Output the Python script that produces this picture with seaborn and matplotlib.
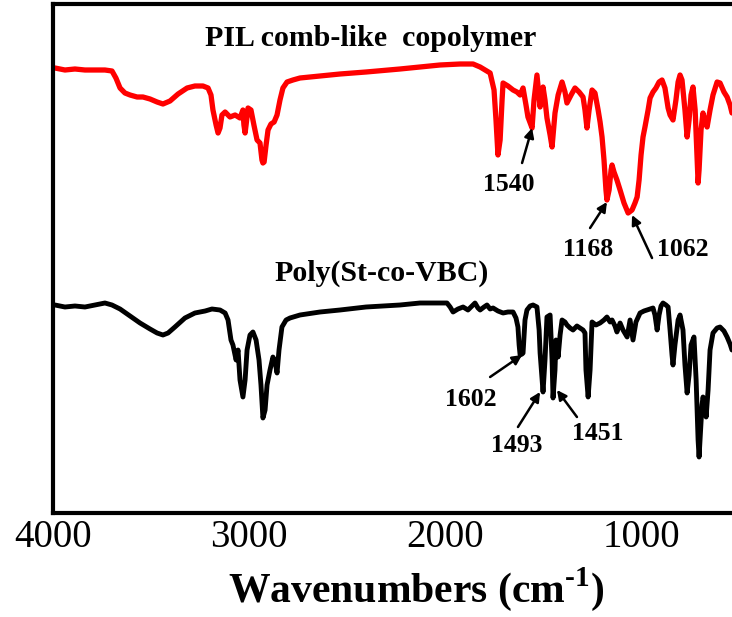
import matplotlib
matplotlib.use("Agg")
import matplotlib.pyplot as plt
import seaborn as sns
import pandas as pd
from matplotlib.ticker import MultipleLocator

# ---------------- data ----------------
pil_wn = [3990, 3939, 3888, 3837, 3786, 3735, 3699, 3679, 3658, 3633, 3607, 3571, 3541, 3505,
          3469, 3439, 3403, 3362, 3316, 3276, 3235, 3209, 3194, 3184, 3168, 3158, 3148, 3138,
          3122, 3097, 3071, 3046, 3031, 3026, 3020, 3015, 3005, 2990, 2975, 2959, 2944, 2934,
          2929, 2923, 2913, 2903, 2888, 2872, 2857, 2842, 2827, 2806, 2776, 2740, 2638, 2536,
          2403, 2230, 2026, 1923, 1857, 1821, 1770, 1750, 1740, 1730, 1719, 1709, 1704, 1679,
          1653, 1633, 1617, 1602, 1587, 1577, 1556, 1546, 1531, 1515, 1500, 1490, 1480, 1464,
          1454, 1444, 1439, 1423, 1403, 1388, 1378, 1357, 1337, 1316, 1296, 1286, 1276, 1265,
          1250, 1235, 1219, 1209, 1199, 1189, 1179, 1174, 1163, 1153, 1148, 1138, 1123, 1107,
          1087, 1066, 1046, 1031, 1020, 1010, 1000, 990, 980, 964, 954, 939, 924, 908, 893,
          878, 862, 852, 837, 822, 811, 801, 791, 776, 765, 755, 745, 735, 724, 714, 709, 704,
          694, 684, 673, 663, 648, 633, 612, 597, 577, 561, 546, 536]
pil_t = [445, 443, 444, 443, 443, 443, 442, 435, 425, 420, 418, 416, 416, 414,
         411, 409, 412, 419, 425, 427, 427, 425, 418, 403, 388, 380, 385, 398,
         401, 396, 398, 395, 403, 388, 380, 388, 405, 403, 388, 373, 370, 353,
         350, 351, 368, 383, 389, 391, 398, 413, 425, 431, 433, 435, 437, 439,
         441, 444, 448, 449, 449, 446, 440, 423, 393, 358, 373, 413, 430, 427,
         423, 421, 418, 425, 408, 396, 385, 413, 438, 406, 426, 413, 395, 378,
         366, 388, 400, 418, 431, 421, 410, 418, 425, 421, 416, 403, 385, 403,
         423, 420, 403, 391, 376, 353, 323, 313, 323, 343, 348, 341, 333, 323,
         310, 300, 303, 310, 316, 333, 358, 376, 386, 403, 415, 421, 425, 431, 433,
         425, 405, 398, 393, 413, 431, 438, 433, 403, 376, 393, 418, 426, 403, 353, 330, 343,
         383, 400, 391, 386, 403, 418, 431, 430, 421, 416, 408, 400]

psv_wn = [3990, 3939, 3888, 3837, 3786, 3735, 3699, 3658, 3607, 3556, 3505, 3469, 3439, 3413,
          3378, 3327, 3276, 3224, 3189, 3148, 3122, 3107, 3092, 3082, 3066, 3056, 3046, 3031,
          3020, 3010, 2995, 2980, 2964, 2949, 2939, 2929, 2918, 2908, 2893, 2878, 2867, 2857,
          2847, 2832, 2811, 2791, 2740, 2638, 2536, 2403, 2230, 2128, 1990, 1974, 1959, 1934,
          1908, 1883, 1862, 1847, 1832, 1821, 1801, 1786, 1770, 1755, 1730, 1704, 1679, 1653,
          1638, 1628, 1622, 1617, 1607, 1602, 1592, 1582, 1566, 1551, 1531, 1520, 1515, 1500,
          1490, 1480, 1464, 1454, 1449, 1439, 1434, 1423, 1413, 1403, 1388, 1378, 1362, 1347,
          1327, 1311, 1296, 1286, 1281, 1270, 1260, 1250, 1230, 1209, 1189, 1174, 1158, 1148,
          1133, 1123, 1107, 1092, 1071, 1056, 1041, 1026, 1005, 985, 969, 954, 939, 929, 918,
          908, 898, 888, 873, 862, 852, 842, 837, 827, 811, 801, 786, 776, 765, 755, 745, 730,
          719, 709, 704, 699, 689, 684, 673, 668, 658, 648, 633, 612, 597, 577, 561, 546, 536]
psv_t = [208, 206, 207, 206, 208, 210, 208, 204, 197, 190, 184, 180, 178, 180,
         186, 195, 200, 202, 204, 203, 200, 193, 173, 168, 153, 163, 133, 116,
         133, 163, 178, 181, 173, 153, 128, 95, 103, 128, 143, 156, 151, 140,
         163, 186, 193, 195, 198, 201, 203, 206, 208, 210, 210, 206, 201, 204,
         206, 203, 207, 210, 205, 203, 206, 208, 204, 205, 202, 200, 201, 201,
         195, 186, 168, 158, 159, 160, 193, 203, 207, 208, 206, 183, 160, 121,
         153, 196, 198, 153, 115, 143, 173, 156, 178, 193, 191, 188, 185, 183,
         187, 185, 183, 180, 143, 116, 143, 191, 188, 190, 193, 196, 191, 193,
         187, 181, 190, 183, 176, 193, 173, 191, 200, 202, 203, 204, 205, 198, 183,
         198, 207, 210, 208, 206, 183, 158, 148, 168, 193, 198, 183, 148, 120, 138, 168, 176,
         133, 73, 56, 73, 108, 116, 108, 96, 123, 163, 180, 185, 186, 182, 176, 169, 163]

series_labels = ["PIL comb-like  copolymer", "Poly(St-co-VBC)"]
x_ticks = [4000, 3000, 2000, 1000]

# peak annotations: (label, peak wn, peak y, text wn, text y)
pil_peaks = [("1540", 1556, 385, 1673, 329),
             ("1168", 1174, 311, 1270, 264),
             ("1062", 1046, 298, 786, 264)]
psv_peaks = [("1602", 1607, 158, 1867, 113),
             ("1493", 1515, 121, 1633, 68),
             ("1451", 1429, 123, 1219, 80)]
# arrow tails (wn, y)
pil_tails = [(1607, 350), (1260, 285), (944, 255)]
psv_tails = [(1770, 136), (1628, 86), (1327, 96)]

# ---------------- figure ----------------
sns.set_style("white")
plt.rcParams['font.family'] = ['Liberation Serif', 'DejaVu Serif']
plt.rcParams['mathtext.fontset'] = 'custom'
plt.rcParams['mathtext.rm'] = 'Liberation Serif:bold'
plt.rcParams['mathtext.bf'] = 'Liberation Serif:bold'
plt.rcParams['text.color'] = 'black'
plt.rcParams['axes.labelcolor'] = 'black'
plt.rcParams['xtick.color'] = 'black'

W, H = 732, 617
fig = plt.figure(figsize=(W / 100, H / 100), dpi=100)
ax = fig.add_axes([53 / W, 104 / H, 679 / W, 509 / H])

df_pil = pd.DataFrame({"wn": pil_wn, "t": pil_t})
df_psv = pd.DataFrame({"wn": psv_wn, "t": psv_t})
sns.lineplot(data=df_pil, x="wn", y="t", color="#ff0000", lw=3.8, ax=ax, sort=False)
sns.lineplot(data=df_psv, x="wn", y="t", color="black", lw=3.5, ax=ax, sort=False)

ax.set_xlim(4000, 536)
ax.set_ylim(0, 509)
ax.set_yticks([])
ax.set_xticks(x_ticks)
ax.set_xticklabels([str(v) for v in x_ticks])
ax.xaxis.set_minor_locator(MultipleLocator(500))
ax.tick_params(axis='x', which='major', direction='in', length=7, width=2.2,
               labelsize=28, pad=4, top=False, colors='black')
ax.tick_params(axis='x', which='minor', direction='in', length=4, width=2.2, top=False)

for s in ['left', 'bottom', 'top']:
    ax.spines[s].set_linewidth(3)
    ax.spines[s].set_color('black')
ax.spines['right'].set_visible(False)

ax.set_ylabel("")
ax.set_xlabel(r"Wavenumbers (cm$^{\text{-1}}$)", fontsize=30, fontweight='bold', color='black')
ax.xaxis.set_label_coords(0.535, -0.102)

# series labels
ax.text(2378, 474, series_labels[0], fontsize=21.5, fontweight='bold', ha='center', va='center',
        color='black')
ax.text(2321, 240, series_labels[1], fontsize=21.5, fontweight='bold', ha='center', va='center',
        color='black')

# annotations
for peaks, tails in ((pil_peaks, pil_tails), (psv_peaks, psv_tails)):
    for (lab, px, py, tx, ty), (ax_, ay_) in zip(peaks, tails):
        ax.annotate("", xy=(px, py), xytext=(ax_, ay_),
                    arrowprops=dict(arrowstyle='-|>', color='black', lw=1.8,
                                    mutation_scale=14, shrinkA=0, shrinkB=0))
        ax.text(tx, ty, lab, fontsize=18.5, fontweight='bold', ha='center', va='center',
                color='black')

fig.savefig("out.png", dpi=100)
